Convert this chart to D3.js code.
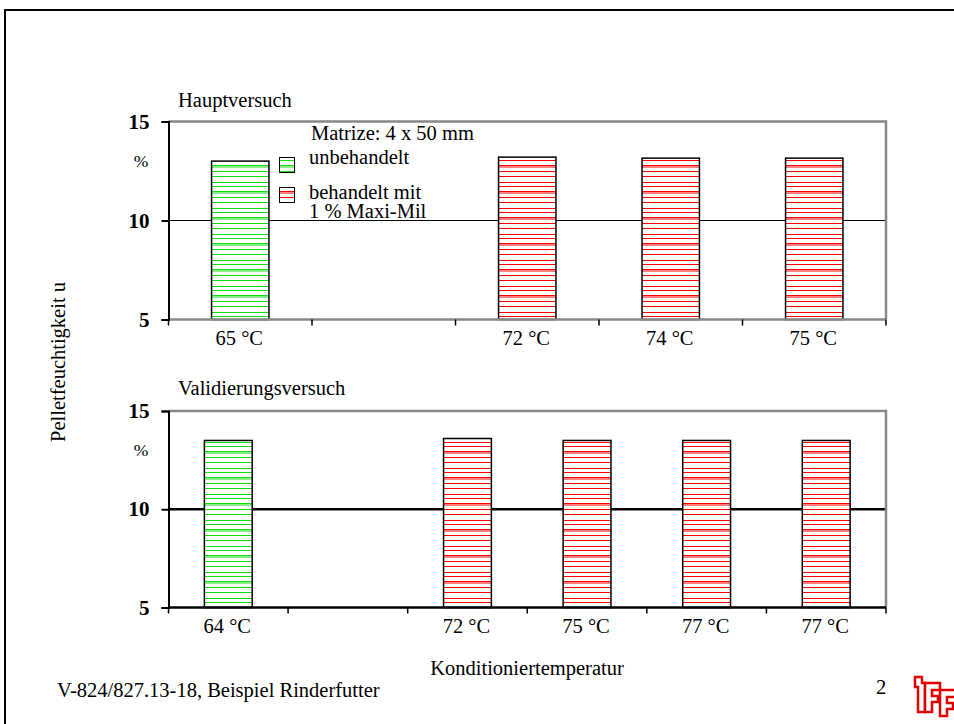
<!DOCTYPE html>
<html lang="de">
<head>
  <meta charset="UTF-8">
  <title>Pelletfeuchtigkeit</title>
  <style>
    body { margin: 0; background: #fff; }
    svg text { font-family: "Liberation Serif", "Times New Roman", serif; fill: #000; }
  </style>
</head>
<body>
  <svg id="svg" width="954" height="724"></svg>
  <script src="https://d3js.org/d3.v7.min.js"></script>
  <script>
    // Hauptversuch
    const topCategories = ['65 °C', '', '72 °C', '74 °C', '75 °C']
    const topValues = [13.0, 5.0, 13.2, 13.15, 13.15]
    const topGroups = ['unbehandelt', 'leer', 'behandelt', 'behandelt', 'behandelt']

    // Validierungsversuch
    const bottomCategories = ['64 °C', '', '72 °C', '75 °C', '77 °C', '77 °C']
    const bottomValues = [13.5, 5.0, 13.6, 13.5, 13.5, 13.5]
    const bottomGroups = ['unbehandelt', 'leer', 'behandelt', 'behandelt', 'behandelt', 'behandelt']

    const yTicks = [5, 10, 15]
    const legendLabels = ['unbehandelt', 'behandelt mit', '1 % Maxi-Mil']

    const FONT = '"Liberation Serif", serif'
    const svg = d3.select('#svg')
    const defs = svg.append('defs')

    // striped fills, irregular line spacing like the original
    const stripeOffsets = [0.5, 4.5, 9.5, 11, 15.5, 20.5]
    function stripe(id, color) {
      const p = defs.append('pattern')
        .attr('id', id)
        .attr('patternUnits', 'userSpaceOnUse')
        .attr('width', 10)
        .attr('height', 26)
      p.append('rect').attr('width', 10).attr('height', 26).attr('fill', '#fff')
      p.selectAll('line')
        .data(stripeOffsets)
        .enter()
        .append('line')
        .attr('x1', 0).attr('x2', 10)
        .attr('y1', d => d).attr('y2', d => d)
        .attr('stroke', color)
        .attr('stroke-width', 1)
    }
    stripe('green', '#11dd11')
    stripe('red', '#ff0000')

    const fillFor = g => g === 'unbehandelt' ? 'url(#green)' : g === 'behandelt' ? 'url(#red)' : '#fff'

    function label(sel, size) {
      return sel.style('font-family', FONT).attr('font-size', size).attr('fill', '#000')
    }

    // page frame
    svg.append('path')
      .attr('d', 'M5,724V10H954')
      .attr('fill', 'none')
      .attr('stroke', '#000')
      .attr('stroke-width', 2)

    function panel(opts) {
      const { categories, values, groups, x0, x1, yTop, yBottom, title, titleY, gridWidth, baseColor } = opts
      const idx = categories.map((d, i) => i)

      const xScale = d3.scaleBand()
        .domain(idx)
        .range([x0, x1])
        .paddingInner(0.6)
        .paddingOuter(0.3)

      const yScale = d3.scaleLinear()
        .domain([5, 15])
        .range([yBottom, yTop])

      const g = svg.append('g')
      const step = xScale.step()

      // title
      label(g.append('text'), 20.5)
        .attr('x', 178)
        .attr('y', titleY)
        .text(title)

      // gridline at 10
      g.append('line')
        .attr('x1', x0).attr('x2', x1)
        .attr('y1', yScale(10)).attr('y2', yScale(10))
        .attr('stroke', '#000')
        .attr('stroke-width', gridWidth)

      // frame top + right (grey)
      g.append('path')
        .attr('d', `M${x0},${yScale(15)}H${x1}V${yScale(5)}`)
        .attr('fill', 'none')
        .attr('stroke', '#888')
        .attr('stroke-width', 2.5)

      // bars
      g.selectAll('rect.bar')
        .data(values)
        .enter()
        .append('rect')
        .attr('class', 'bar')
        .attr('x', (d, i) => xScale(i))
        .attr('y', d => yScale(d))
        .attr('width', xScale.bandwidth())
        .attr('height', d => yScale(5) - yScale(d))
        .attr('fill', (d, i) => fillFor(groups[i]))
        .attr('stroke', '#000')
        .attr('stroke-width', 1.5)

      // bottom axis
      g.append('line')
        .attr('x1', x0).attr('x2', x1)
        .attr('y1', yScale(5)).attr('y2', yScale(5))
        .attr('stroke', baseColor)
        .attr('stroke-width', 2.5)

      const xAxis = d3.axisBottom(xScale).tickSize(0).tickPadding(11).tickFormat(i => categories[i])
      const ax = g.append('g')
        .attr('transform', `translate(-1,${yScale(5)})`)
        .call(xAxis)
      ax.attr('font-family', null)
      ax.select('.domain').remove()
      label(ax.selectAll('text'), 20.5)

      // slot boundary ticks
      g.selectAll('line.xtick')
        .data(d3.range(categories.length + 1))
        .enter()
        .append('line')
        .attr('class', 'xtick')
        .attr('x1', i => x0 + i * step).attr('x2', i => x0 + i * step)
        .attr('y1', yScale(5)).attr('y2', yScale(5) + 6)
        .attr('stroke', '#000')
        .attr('stroke-width', 1.5)

      // left axis
      const yAxis = d3.axisLeft(yScale).tickValues(yTicks).tickSize(7).tickPadding(12)
      const ay = g.append('g')
        .attr('transform', `translate(${x0},0)`)
        .call(yAxis)
      ay.attr('font-family', null)
      ay.select('.domain').attr('stroke-width', 2)
      ay.selectAll('.tick line').attr('stroke-width', 2)
      label(ay.selectAll('text'), 21).attr('font-weight', 'bold')

      label(g.append('text'), 17.5)
        .attr('x', 141)
        .attr('y', yScale(13) + 6)
        .attr('text-anchor', 'middle')
        .text('%')

      return { xScale, yScale }
    }

    panel({
      categories: topCategories, values: topValues, groups: topGroups,
      x0: 168.5, x1: 886, yTop: 121.5, yBottom: 319.5,
      title: 'Hauptversuch', titleY: 107, gridWidth: 1.2, baseColor: '#888'
    })

    panel({
      categories: bottomCategories, values: bottomValues, groups: bottomGroups,
      x0: 168.5, x1: 886, yTop: 411, yBottom: 607.5,
      title: 'Validierungsversuch', titleY: 395, gridWidth: 2.5, baseColor: '#000'
    })

    // legend
    const legend = svg.append('g')
    label(legend.append('text'), 20.5)
      .attr('x', 311).attr('y', 140)
      .text('Matrize: 4 x 50 mm')
    legend.selectAll('rect.sw')
      .data(['unbehandelt', 'behandelt'])
      .enter()
      .append('rect')
      .attr('class', 'sw')
      .attr('x', 279.5)
      .attr('y', (d, i) => 157.5 + i * 30)
      .attr('width', 15)
      .attr('height', 15)
      .attr('fill', d => fillFor(d))
      .attr('stroke', '#000')
      .attr('stroke-width', 1)
    label(legend.selectAll('text.lab')
      .data(legendLabels)
      .enter()
      .append('text')
      .attr('class', 'lab'), 20.5)
      .attr('x', 309)
      .attr('y', (d, i) => [164, 199, 218][i])
      .text(d => d)

    // axis titles
    label(svg.append('text'), 20.5)
      .attr('transform', 'translate(65,362) rotate(-90)')
      .attr('text-anchor', 'middle')
      .text('Pelletfeuchtigkeit u')

    label(svg.append('text'), 20.5)
      .attr('x', 527).attr('y', 675)
      .attr('text-anchor', 'middle')
      .text('Konditioniertemperatur')

    label(svg.append('text'), 20.5)
      .attr('x', 57).attr('y', 697)
      .text('V-824/827.13-18, Beispiel Rinderfutter')

    label(svg.append('text'), 20.5)
      .attr('x', 881).attr('y', 694)
      .attr('text-anchor', 'middle')
      .text('2')

    // logo (rough)
    const logo = svg.append('g')
      .attr('fill', '#fff')
      .attr('stroke', '#e00000')
      .attr('stroke-width', 2.5)
    logo.append('path').attr('d', 'M915,677H922V683H925V712H918V687H915Z')
    logo.append('path').attr('d', 'M925,683H940V690H932V696H938V702H932V712H925Z')
    logo.append('path').attr('d', 'M940,690H956V697H947V703H953V709H947V716H940Z')
  </script>
</body>
</html>
